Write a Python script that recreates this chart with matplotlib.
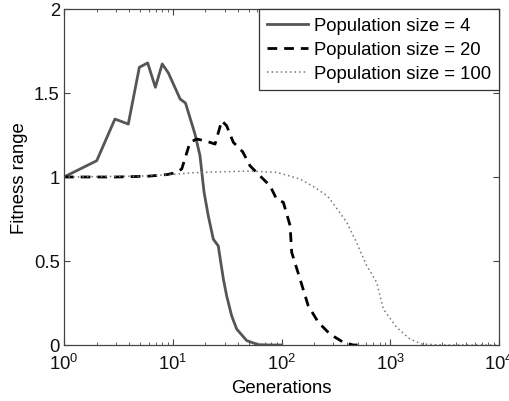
import matplotlib
matplotlib.use("Agg")
import matplotlib.pyplot as plt
from matplotlib.ticker import LogLocator, NullFormatter

plt.rcParams['font.family'] = ['Liberation Sans', 'DejaVu Sans']
plt.rcParams['mathtext.fontset'] = 'custom'
plt.rcParams['mathtext.rm'] = 'Liberation Sans'
plt.rcParams['mathtext.it'] = 'Liberation Sans'
plt.rcParams['mathtext.default'] = 'regular'

# Population size = 4
gen4 = [1, 2.0, 2.94, 3.9, 4.93, 5.88, 6.92, 8.0, 9.1, 11.7, 13.1, 16.0, 17.8, 19.4, 21.2,
        23.6, 26.2, 29.2, 31.3, 34.8, 38.7, 47.9, 61, 80, 100]
fit4 = [1.0, 1.097, 1.345, 1.315, 1.653, 1.679, 1.534, 1.673, 1.62, 1.464, 1.44, 1.256, 1.127,
        0.91, 0.77, 0.63, 0.59, 0.393, 0.293, 0.174, 0.095, 0.026, 0.002, 0.0, 0.0]

# Population size = 20
gen20 = [1, 3, 6, 9, 10.9, 12.1, 14.4, 16.6, 20, 24.5, 28.2, 31.3, 36.1, 44, 51.3, 65, 78.4,
         90, 104, 120, 124, 148, 176, 218, 279, 370, 457, 500]
fit20 = [1.0, 1.0, 1.005, 1.015, 1.028, 1.048, 1.206, 1.226, 1.215, 1.196, 1.335, 1.305, 1.206,
         1.15, 1.067, 1.0, 0.948, 0.869, 0.849, 0.71, 0.552, 0.393, 0.234, 0.135, 0.065, 0.016,
         0.0, 0.0]

# Population size = 100
gen100 = [1, 5, 10, 15, 25, 50, 90, 148, 200, 261, 279, 398, 490, 607, 750, 863, 1145, 1515,
          1950, 3000, 10000]
fit100 = [1.0, 1.005, 1.015, 1.025, 1.03, 1.035, 1.028, 0.988, 0.94, 0.889, 0.869, 0.73, 0.61,
          0.472, 0.373, 0.214, 0.105, 0.036, 0.006, 0.0, 0.0]

fs = 13.3

fig = plt.figure(figsize=(5.1, 4.02), dpi=100)
ax = fig.add_axes([64/510, 1 - 346/402, (499-64)/510, (346-10)/402])

ax.plot(gen4, fit4, color='#555555', lw=2.0, ls='-', label='Population size = 4')
ax.plot(gen20, fit20, color='black', lw=2.0, ls=(0, (3.5, 2.5)), label='Population size = 20')
ax.plot(gen100, fit100, color='#777777', lw=1.1, ls=(0, (1, 2)), label='Population size = 100')

ax.set_xscale('log')
ax.set_xlim(1, 1e4)
ax.set_ylim(0, 2)
ax.set_yticks([0, 0.5, 1, 1.5, 2])
ax.set_yticklabels(['0', '0.5', '1', '1.5', '2'])
ax.xaxis.set_major_locator(LogLocator(base=10, numticks=10))
ax.xaxis.set_minor_locator(LogLocator(base=10, subs=range(2, 10), numticks=20))
ax.xaxis.set_minor_formatter(NullFormatter())

ax.tick_params(which='both', direction='in', top=True, right=True, labelsize=fs,
               colors='#444444', labelcolor='#111111')
ax.tick_params(which='major', length=4)
ax.tick_params(which='minor', length=2)
ax.tick_params(axis='y', which='major', pad=3)
ax.tick_params(axis='x', which='major', pad=6)
for s in ax.spines.values():
    s.set_color('#444444')
    s.set_linewidth(0.9)

ax.set_xlabel('Generations', fontsize=fs, labelpad=4)
ax.set_ylabel('Fitness range', fontsize=fs, labelpad=4)

leg = ax.legend(loc='upper right', fontsize=fs, frameon=True, fancybox=False,
                edgecolor='#333333', borderaxespad=0, handlelength=2.2, handletextpad=0.3,
                borderpad=0.45, labelspacing=0.37, framealpha=1)
leg.get_frame().set_linewidth(0.9)

fig.savefig('out.png', dpi=100)
